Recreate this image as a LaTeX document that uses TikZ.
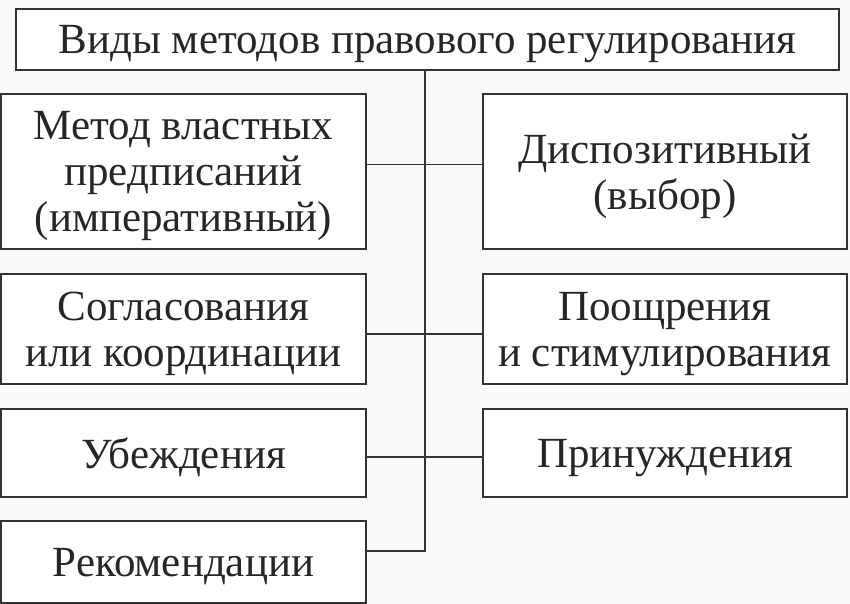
\documentclass[tikz,border=0pt]{standalone}
\usepackage{fontspec}
\setmainfont{Liberation Serif}
\usetikzlibrary{positioning}

\begin{document}
\begin{tikzpicture}[x=1pt,y=-1pt,
    method/.style={draw=black!80, line width=1.8pt, fill=white, align=center,
      inner sep=0pt, text depth=0pt, text=black!85, font=\fontsize{43}{46}\selectfont},
    link/.style={draw=black!80, line width=1.8pt}]
    \useasboundingbox[fill=black!2] (0,0) rectangle (850,604);

    % Title
    \node[method, minimum width=823pt, minimum height=61pt] (title) at (427.5,39.5)
      {Виды методов правового регулирования};

    % Left column
    \node[method, minimum width=365pt, minimum height=155pt] (l1) at (183.5,171.5)
      {Метод властных\\предписаний\\(императивный)};
    \node[method, minimum width=365pt, minimum height=110pt] (l2) at (183.5,329)
      {Согласования\\или координации};
    \node[method, minimum width=365pt, minimum height=88pt] (l3) at (183.5,453)
      {Убеждения};
    \node[method, minimum width=365pt, minimum height=82pt] (l4) at (183.5,562)
      {Рекомендации};

    % Right column
    \node[method, minimum width=364pt, minimum height=155pt] (r1) at (665,171.5)
      {Диспозитивный\\(выбор)};
    \node[method, minimum width=364pt, minimum height=110pt] (r2) at (665,329)
      {Поощрения\\и стимулирования};
    \node[method, minimum width=364pt, minimum height=88pt] (r3) at (665,453)
      {Принуждения};

    % Trunk and branches
    \coordinate (trunk) at ([xshift=-2.5pt]title.south);
    \draw[link] (trunk) |- ([yshift=11pt]l4.east);
    \draw[link] ([yshift=7pt]l1.east) -- ([yshift=7pt]r1.west);
    \draw[link] ([yshift=-5pt]l2.east) -- ([yshift=-5pt]r2.west);
    \draw[link] ([yshift=-4pt]l3.east) -- ([yshift=-4pt]r3.west);
\end{tikzpicture}
\end{document}
